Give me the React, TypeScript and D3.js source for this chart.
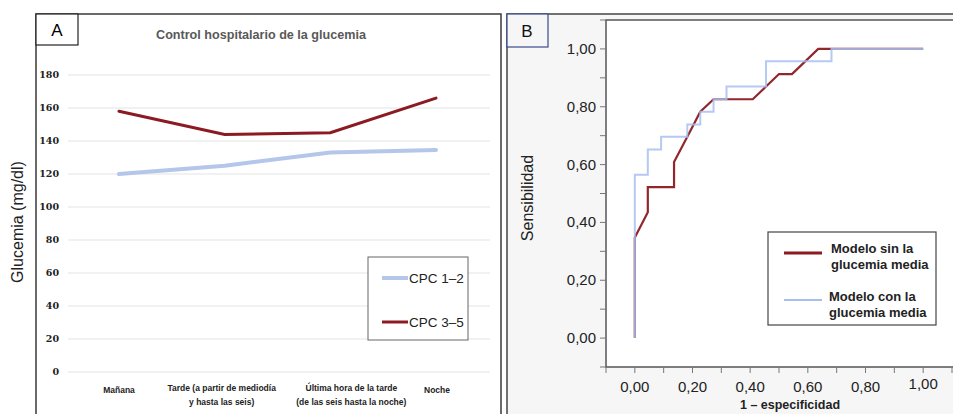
import React from 'react';
import * as d3 from 'd3';

// Panel A data: mean glucose by time of day
const momentos = ['Mañana', 'Tarde', 'Ultima', 'Noche'];
const momentoLineas = [
  ['Mañana'],
  ['Tarde (a partir de mediodía', 'y hasta las seis)'],
  ['Última hora de la tarde', '(de las seis hasta la noche)'],
  ['Noche'],
];
const cpc12 = [120, 125, 133, 134.5];
const cpc35 = [158, 144, 145, 166];
const glucemiaTicks = [0, 20, 40, 60, 80, 100, 120, 140, 160, 180];

// Panel B data: ROC curves [1 - especificidad, sensibilidad]
const rocSinGlucemia: [number, number][] = [
  [0, 0], [0, 0.348], [0.045, 0.435], [0.045, 0.522], [0.136, 0.522], [0.136, 0.609],
  [0.182, 0.696], [0.227, 0.783], [0.273, 0.826], [0.409, 0.826], [0.455, 0.87],
  [0.5, 0.913], [0.545, 0.913], [0.636, 1], [1, 1],
];
const rocConGlucemia: [number, number][] = [
  [0, 0], [0, 0.565], [0.045, 0.652], [0.091, 0.696], [0.182, 0.739], [0.227, 0.783],
  [0.273, 0.826], [0.318, 0.87], [0.455, 0.957], [0.682, 1], [1, 1],
];
const rocTicks = [0, 0.2, 0.4, 0.6, 0.8, 1];
const rocMinorTicks = [-0.1, 0, 0.1, 0.2, 0.3, 0.4, 0.5, 0.6, 0.7, 0.8, 0.9, 1, 1.1];

const RED = '#8b1a22';
const BLUE_A = '#b4c6ea';
const BLUE_B = '#a8bfee';
const SANS = '"Liberation Sans", Arial, sans-serif';

const fmt = (v: number) => v.toFixed(2).replace('.', ',');

export default function App() {
  // ---- panel A scales
  const xA = d3.scalePoint<string>().domain(momentos).range([119, 436]);
  const yA = d3.scaleLinear().domain([0, 180]).range([372, 75]);
  const lineA = d3.line<number>()
    .x((_, i) => xA(momentos[i]) as number)
    .y(d => yA(d));
  // small horizontal nudge of category labels as in the original
  const labelShift = [0, -3, 21, 1];

  // ---- panel B scales
  const xB = d3.scaleLinear().domain([-0.1, 1.1]).range([606, 952]);
  const yB = d3.scaleLinear().domain([-0.1, 1.1]).range([367, 20]);
  const rocLine = d3.line<[number, number]>().x(d => xB(d[0])).y(d => yB(d[1]));
  const rocStep = d3.line<[number, number]>().x(d => xB(d[0])).y(d => yB(d[1])).curve(d3.curveStepAfter);

  return (
    <svg width={953} height={414} style={{ position: 'absolute', left: 0, top: 0, fontFamily: SANS }}>
      <rect width={953} height={414} fill="#fff" />

      {/* ================= Panel A ================= */}
      <path d="M36,414 V14 H501 V414" fill="none" stroke="#3a3a3a" strokeWidth={1.5} />
      <rect x={36} y={14} width={42} height={31} fill="#fff" stroke="#222" strokeWidth={1.2} />
      <text x={57} y={36} textAnchor="middle" fontSize={17}>A</text>
      <text x={261} y={39} textAnchor="middle" fontSize={12.6} fontWeight="bold" fill="#595959">
        Control hospitalario de la glucemia
      </text>

      {glucemiaTicks.map(t => (
        <g key={t}>
          <line x1={68} x2={490} y1={yA(t)} y2={yA(t)} stroke="#e3e3e3" />
          <text x={59} y={yA(t) + 3} textAnchor="end" fontSize={9.5} fontWeight="bold"
            fontFamily='"DejaVu Serif", serif' fill="#222">{t}</text>
        </g>
      ))}

      <text transform="translate(23,222) rotate(-90)" textAnchor="middle" fontSize={16} fill="#222">
        Glucemia (mg/dl)
      </text>

      {momentoLineas.map((lines, i) => (
        <text key={i} x={(xA(momentos[i]) as number) + labelShift[i]} y={lines.length > 1 ? 391 : 393}
          textAnchor="middle" fontSize={8.5} fontWeight="bold" fill="#222">
          {lines.map((l, j) => (
            <tspan key={j} x={(xA(momentos[i]) as number) + labelShift[i]} dy={j === 0 ? 0 : 14}>{l}</tspan>
          ))}
        </text>
      ))}

      <path d={lineA(cpc12) || ''} fill="none" stroke={BLUE_A} strokeWidth={4} strokeLinecap="round" />
      <path d={lineA(cpc35) || ''} fill="none" stroke={RED} strokeWidth={3} strokeLinecap="round" />

      <rect x={368} y={257} width={100} height={83} fill="#fff" stroke="#666" strokeWidth={1} />
      <line x1={382} x2={408} y1={278} y2={278} stroke={BLUE_A} strokeWidth={4} />
      <text x={409} y={283} fontSize={13.5} fill="#222">CPC 1–2</text>
      <line x1={382} x2={408} y1={322} y2={322} stroke={RED} strokeWidth={3} />
      <text x={409} y={327} fontSize={13.5} fill="#222">CPC 3–5</text>

      {/* ================= Panel B ================= */}
      <rect x={507} y={14} width={450} height={404} fill="#f6f6f6" stroke="#444" strokeWidth={1.5} />
      <rect x={606} y={20} width={350} height={347} fill="#fff" stroke="#555" strokeWidth={1.5} />
      <rect x={507} y={14} width={41} height={33} fill="#f6f6f6" stroke="#3b4a8c" strokeWidth={1.2} />
      <text x={527} y={37} textAnchor="middle" fontSize={17} fill="#111">B</text>

      {rocMinorTicks.map(t => (
        <g key={t}>
          <line x1={600} x2={606} y1={yB(t)} y2={yB(t)} stroke="#777" />
          <line x1={xB(t)} x2={xB(t)} y1={367} y2={373} stroke="#777" />
        </g>
      ))}
      {rocTicks.map(t => (
        <g key={t}>
          <text x={596} y={yB(t) + 5} textAnchor="end" fontSize={15} fill="#222">{fmt(t)}</text>
          <text x={xB(t)} y={t === 1 ? 389 : 392} textAnchor="middle" fontSize={15} fill="#222">{fmt(t)}</text>
        </g>
      ))}

      <text transform="translate(533,198) rotate(-90)" textAnchor="middle" fontSize={16} fill="#222">
        Sensibilidad
      </text>
      <text x={790} y={409} textAnchor="middle" fontSize={12.5} fontWeight="bold" fill="#222">
        1 – especificidad
      </text>

      <path d={rocLine(rocSinGlucemia) || ''} fill="none" stroke={RED} strokeWidth={2.2} strokeOpacity={0.95} />
      <path d={rocStep(rocConGlucemia) || ''} fill="none" stroke={BLUE_B} strokeWidth={2} strokeOpacity={0.85} />

      <rect x={768} y={232} width={168} height={93} fill="#fff" stroke="#444" strokeWidth={1.2} />
      <line x1={784} x2={822} y1={253} y2={253} stroke={RED} strokeWidth={3} />
      <text x={831} y={253} fontSize={13} fontWeight="bold" fill="#222">
        <tspan x={831} dy={0}>Modelo sin la</tspan>
        <tspan x={831} dy={16}>glucemia media</tspan>
      </text>
      <line x1={784} x2={822} y1={300} y2={300} stroke={BLUE_B} strokeWidth={2} />
      <text x={829} y={301} fontSize={13} fontWeight="bold" fill="#222">
        <tspan x={829} dy={0}>Modelo con la</tspan>
        <tspan x={829} dy={16}>glucemia media</tspan>
      </text>
    </svg>
  );
}
